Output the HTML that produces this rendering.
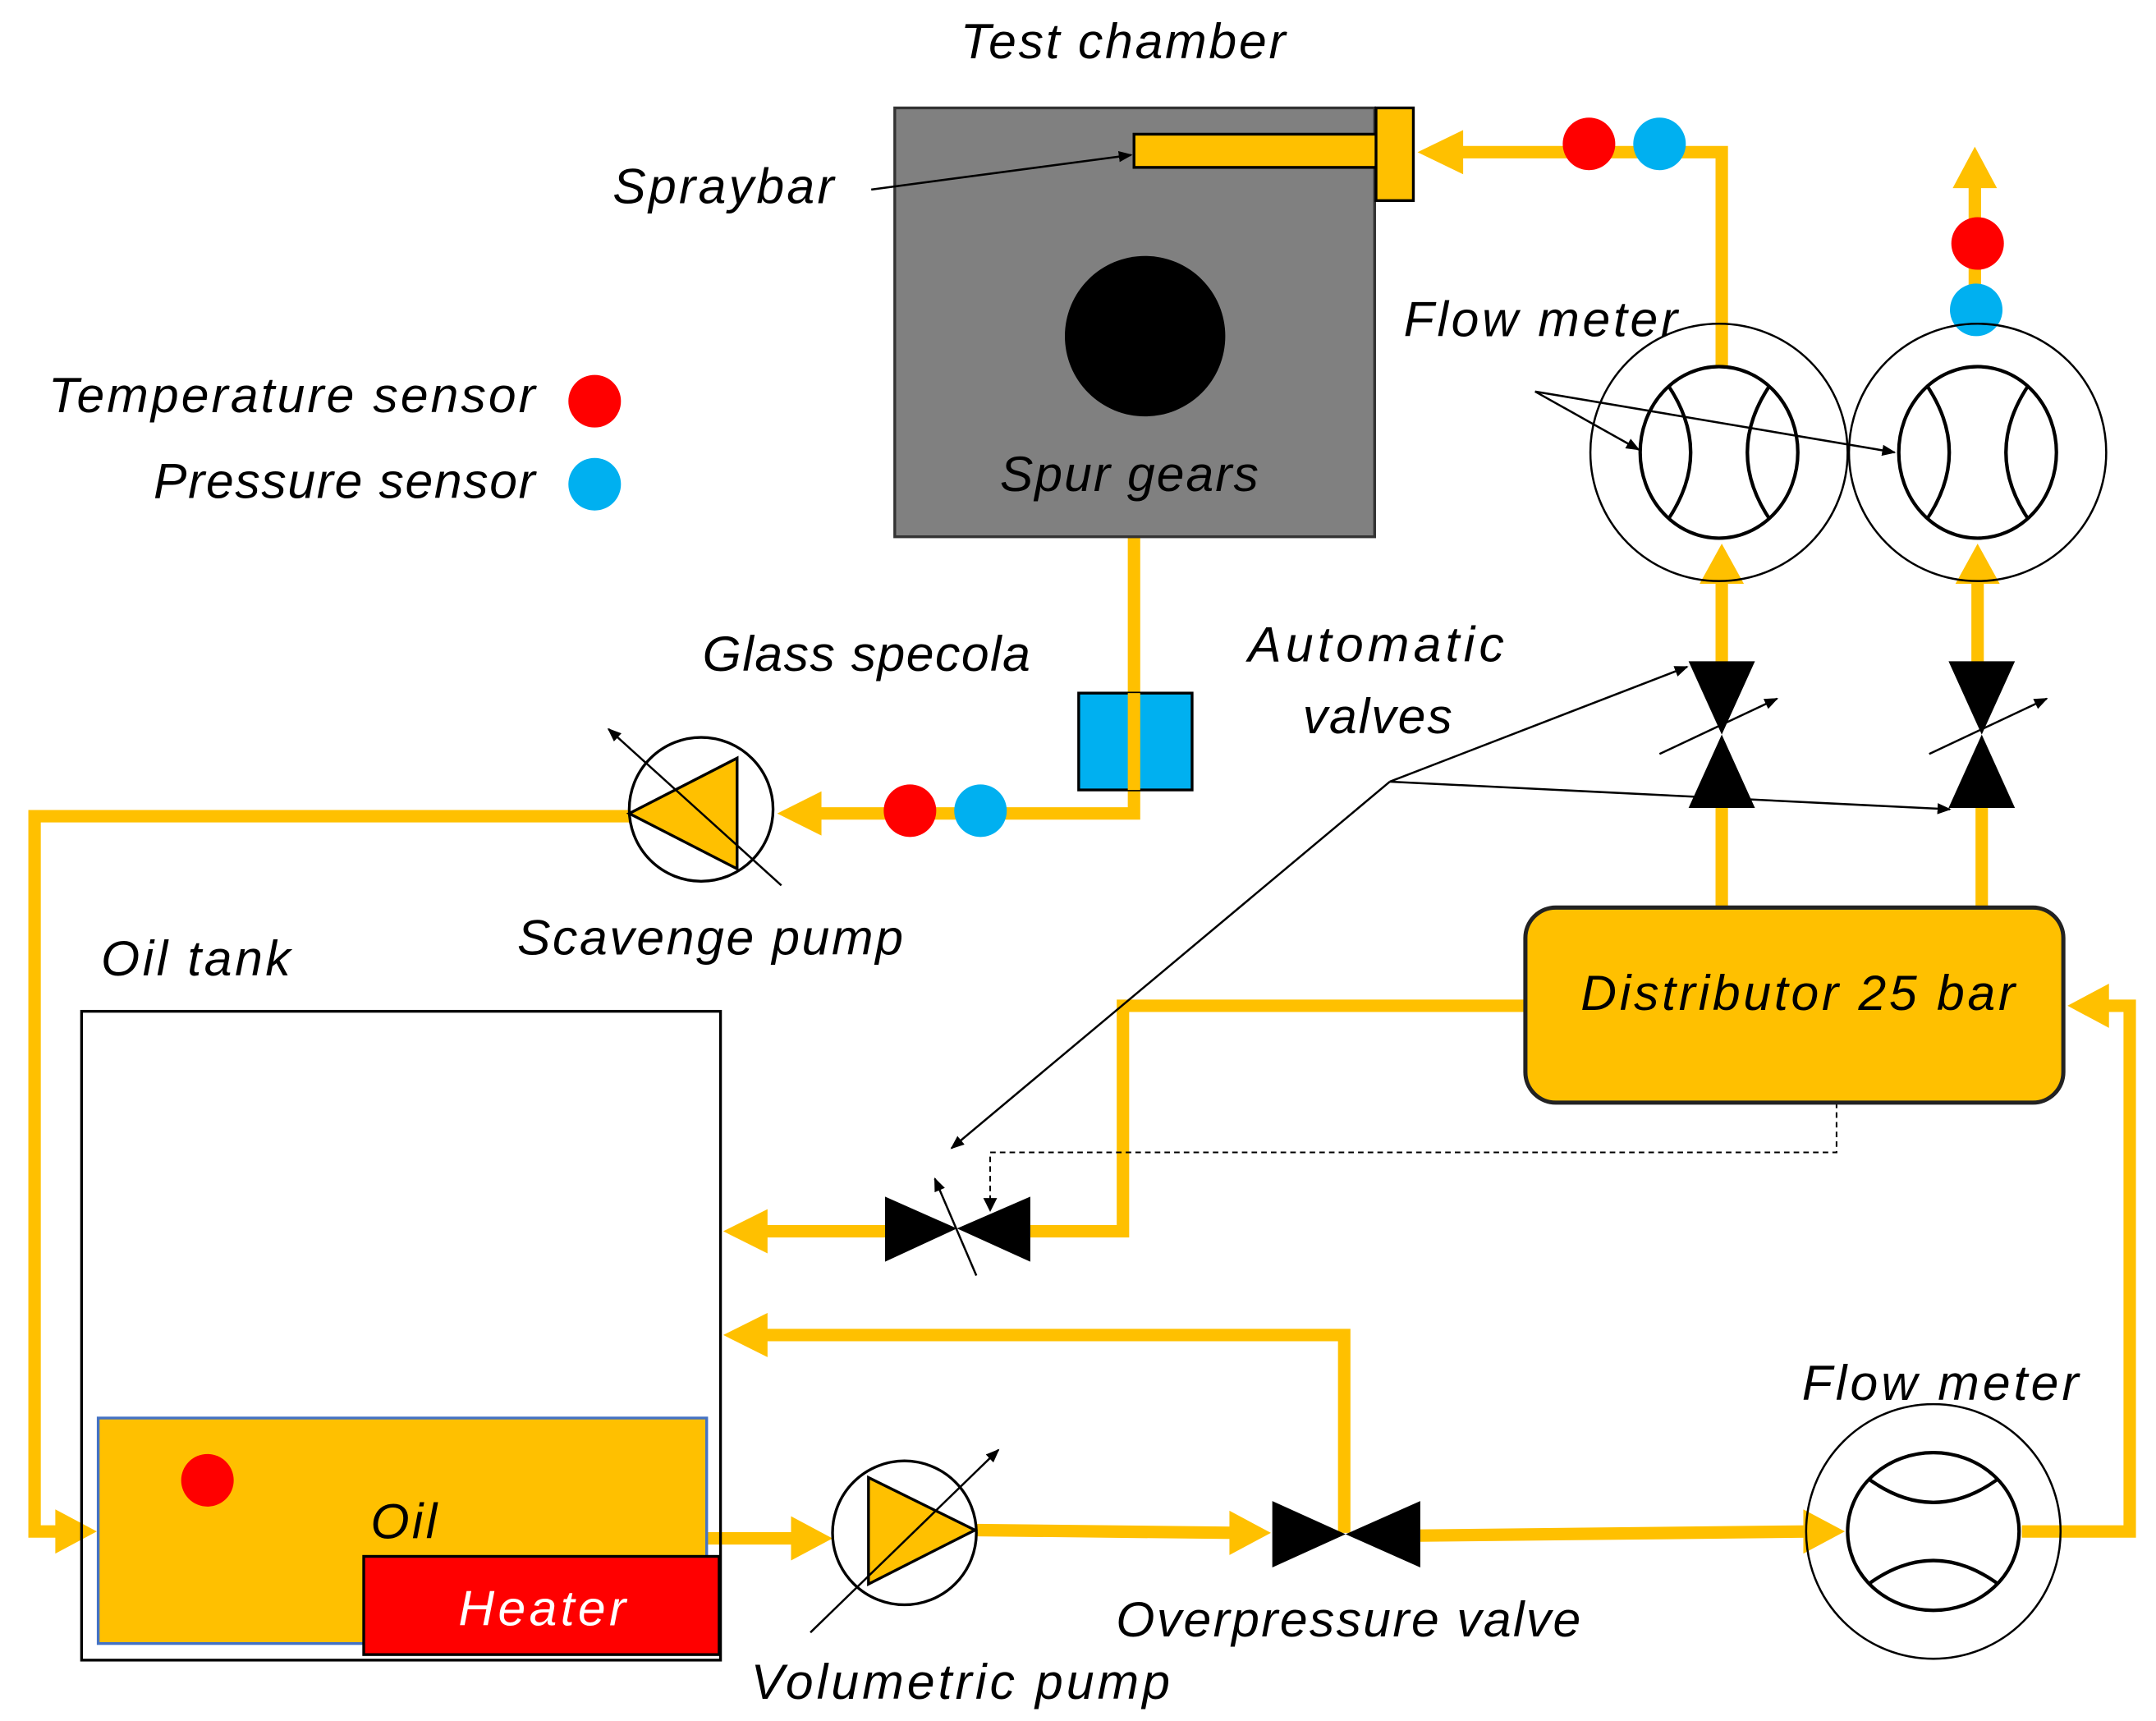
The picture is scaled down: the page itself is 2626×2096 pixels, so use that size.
<!DOCTYPE html>
<html><head><meta charset="utf-8"><style>html,body{margin:0;padding:0;background:#fff}svg{display:block}</style></head>
<body>
<svg width="2626" height="2096" viewBox="0 0 1559 1244" preserveAspectRatio="none" xmlns="http://www.w3.org/2000/svg" font-family="Liberation Sans, sans-serif" font-style="italic" font-size="36">
<defs>
<marker id="ah" markerWidth="10" markerHeight="10" refX="9" refY="5" orient="auto" markerUnits="userSpaceOnUse" viewBox="0 0 10 10"><path d="M0,1 L10,5 L0,9 z" fill="#000"/></marker>
<clipPath id="c1"><ellipse cx="1243" cy="327" rx="57" ry="62"/></clipPath>
<clipPath id="c2"><ellipse cx="1430" cy="327" rx="57" ry="62"/></clipPath>
<clipPath id="c3"><ellipse cx="1398" cy="1107" rx="62" ry="57"/></clipPath>
</defs>
<g fill="none" stroke="#FFC000" stroke-width="9">
<polyline points="1245,265 1245,110 1052,110"/>
<line x1="1428" y1="240" x2="1428" y2="128"/>
<line x1="835" y1="121" x2="835" y2="175"/>
<line x1="1245" y1="420" x2="1245" y2="480"/>
<line x1="1430" y1="420" x2="1430" y2="480"/>
<line x1="1245" y1="584" x2="1245" y2="657"/>
<line x1="1433" y1="584" x2="1433" y2="657"/>
<polyline points="1462,1107 1540,1107 1540,727 1520,727"/>
<polyline points="1103,727 812,727 812,890 745,890"/>
<line x1="640" y1="890" x2="552" y2="890"/>
<polyline points="972,1108 972,965 552,965"/>
<polyline points="820,388 820,588 590,588"/>
<polyline points="455,590 25,590 25,1107 48,1107"/>
<line x1="511" y1="1112" x2="576" y2="1112"/>
<line x1="706" y1="1106" x2="892" y2="1108"/>
<line x1="1027" y1="1110" x2="1308" y2="1107"/>
</g>
<g fill="#FFC000">
<path d="M1025,110 L1058,94 L1058,126 z"/>
<path d="M1428,106 L1412,136 L1444,136 z"/>
<path d="M835,197 L819,170 L851,170 z"/>
<path d="M1245,393 L1229,422 L1261,422 z"/>
<path d="M1430,393 L1414,422 L1446,422 z"/>
<path d="M1495,727 L1525,711 L1525,743 z"/>
<path d="M523,890 L555,874 L555,906 z"/>
<path d="M523,965 L555,949 L555,981 z"/>
<path d="M562,588 L594,572 L594,604 z"/>
<path d="M70,1107 L40,1091 L40,1123 z"/>
<path d="M602,1112 L572,1096 L572,1128 z"/>
<path d="M919,1108 L889,1092 L889,1124 z"/>
<path d="M1334,1107 L1304,1091 L1304,1123 z"/>
</g>
<rect x="647" y="78" width="347" height="310" fill="#808080" stroke="#333" stroke-width="2"/>
<rect x="820" y="97" width="178" height="24" fill="#FFC000" stroke="#000" stroke-width="2"/>
<rect x="995" y="78" width="27" height="67" fill="#FFC000" stroke="#000" stroke-width="2"/>
<circle cx="828" cy="243" r="58" fill="#000"/>
<text x="812" y="42" text-anchor="middle" textLength="235">Test chamber</text>
<text x="443" y="147" textLength="160">Spraybar</text>
<line x1="630" y1="137" x2="818" y2="112" stroke="#000" stroke-width="1.5" marker-end="url(#ah)"/>
<text x="723" y="355" textLength="187">Spur gears</text>
<text x="387" y="298" text-anchor="end" textLength="352">Temperature sensor</text>
<text x="387" y="360" text-anchor="end" textLength="276">Pressure sensor</text>
<g fill="#FF0000"><circle cx="430" cy="290" r="19"/><circle cx="1149" cy="104" r="19"/><circle cx="1430" cy="176" r="19"/><circle cx="1276" cy="772" r="19"/><circle cx="658" cy="586" r="19"/><circle cx="150" cy="1070" r="19"/></g>
<g fill="#00B0F0"><circle cx="430" cy="350" r="19"/><circle cx="1200" cy="104" r="19"/><circle cx="1429" cy="224" r="19"/><circle cx="1327" cy="772" r="19"/><circle cx="709" cy="586" r="19"/></g>
<g fill="none" stroke="#000" stroke-width="1.5">
<circle cx="1243" cy="327" r="93"/><circle cx="1430" cy="327" r="93"/>
<circle cx="1398" cy="1107" r="92"/>
</g>
<g fill="#fff" stroke="#000" stroke-width="2.5">
<ellipse cx="1243" cy="327" rx="57" ry="62"/>
<ellipse cx="1430" cy="327" rx="57" ry="62"/>
<ellipse cx="1398" cy="1107" rx="62" ry="57"/>
</g>
<g fill="none" stroke="#000" stroke-width="2.5">
<path clip-path="url(#c1)" d="M1200,270 Q1245,327 1200,384"/><path clip-path="url(#c1)" d="M1286,270 Q1241,327 1286,384"/>
<path clip-path="url(#c2)" d="M1387,270 Q1432,327 1387,384"/><path clip-path="url(#c2)" d="M1473,270 Q1428,327 1473,384"/>
<path clip-path="url(#c3)" d="M1340,1060 Q1398,1112 1456,1060"/><path clip-path="url(#c3)" d="M1340,1154 Q1398,1102 1456,1154"/>
</g>
<text x="1015" y="243" textLength="198">Flow meter</text>
<line x1="1110" y1="283" x2="1185" y2="325" stroke="#000" stroke-width="1.5" marker-end="url(#ah)"/>
<line x1="1110" y1="283" x2="1370" y2="327" stroke="#000" stroke-width="1.5" marker-end="url(#ah)"/>
<g fill="#000">
<path d="M1221,478 L1269,478 L1245,531 z M1221,584 L1269,584 L1245,531 z"/>
<path d="M1409,478 L1457,478 L1433,531 z M1409,584 L1457,584 L1433,531 z"/>
<path d="M640,865 L640,912 L692,888 z M745,865 L745,912 L692,888 z"/>
<path d="M920,1085 L920,1133 L973,1109 z M1027,1085 L1027,1133 L973,1109 z"/>
</g>
<g stroke="#000" stroke-width="1.5">
<line x1="1200" y1="545" x2="1285" y2="505" marker-end="url(#ah)"/>
<line x1="1395" y1="545" x2="1480" y2="505" marker-end="url(#ah)"/>
<line x1="706" y1="922" x2="676" y2="852" marker-end="url(#ah)"/>
<line x1="1005" y1="565" x2="1220" y2="482" marker-end="url(#ah)"/>
<line x1="1005" y1="565" x2="1410" y2="585" marker-end="url(#ah)"/>
<line x1="1005" y1="565" x2="688" y2="830" marker-end="url(#ah)"/>
</g>
<polyline points="1328,797 1328,833 716,833 716,872" fill="none" stroke="#000" stroke-width="1.2" stroke-dasharray="4,3"/>
<path d="M716,876 L711,866 L721,866 z" fill="#000"/>
<text x="995" y="478" text-anchor="middle" textLength="185">Automatic</text>
<text x="996" y="530" text-anchor="middle" textLength="108">valves</text>
<rect x="1103" y="656" width="389" height="141" rx="22" fill="#FFC000" stroke="#222" stroke-width="3"/>
<text x="1300" y="730" text-anchor="middle" textLength="314">Distributor 25 bar</text>
<rect x="780" y="501" width="82" height="70" fill="#00B0F0" stroke="#000" stroke-width="2"/>
<line x1="820" y1="501" x2="820" y2="571" stroke="#FFC000" stroke-width="9"/>
<text x="508" y="485" textLength="237">Glass specola</text>
<circle cx="507" cy="585" r="52" fill="#fff" stroke="#000" stroke-width="2"/>
<path d="M455,588 L533,548 L533,628 z" fill="#FFC000" stroke="#000" stroke-width="2"/>
<line x1="565" y1="640" x2="440" y2="527" stroke="#000" stroke-width="1.5" marker-end="url(#ah)"/>
<text x="374" y="690" textLength="279">Scavenge pump</text>
<text x="73" y="705" textLength="137">Oil tank</text>
<rect x="59" y="731" width="462" height="469" fill="none" stroke="#000" stroke-width="2"/>
<rect x="71" y="1025" width="440" height="163" fill="#FFC000" stroke="#4472C4" stroke-width="2"/>
<circle cx="150" cy="1070" r="19" fill="#FF0000"/>
<text x="268" y="1112" textLength="48">Oil</text>
<rect x="263" y="1125" width="257" height="71" fill="#FF0000" stroke="#000" stroke-width="2"/>
<text x="392" y="1175" text-anchor="middle" fill="#fff" textLength="121">Heater</text>
<circle cx="654" cy="1108" r="52" fill="#fff" stroke="#000" stroke-width="2"/>
<path d="M628,1068 L628,1145 L705,1106 z" fill="#FFC000" stroke="#000" stroke-width="2"/>
<line x1="586" y1="1180" x2="722" y2="1048" stroke="#000" stroke-width="1.5" marker-end="url(#ah)"/>
<text x="543" y="1228" textLength="303">Volumetric pump</text>
<text x="807" y="1183" textLength="336">Overpressure valve</text>
<text x="1303" y="1012" textLength="200">Flow meter</text>
</svg>
</body></html>
